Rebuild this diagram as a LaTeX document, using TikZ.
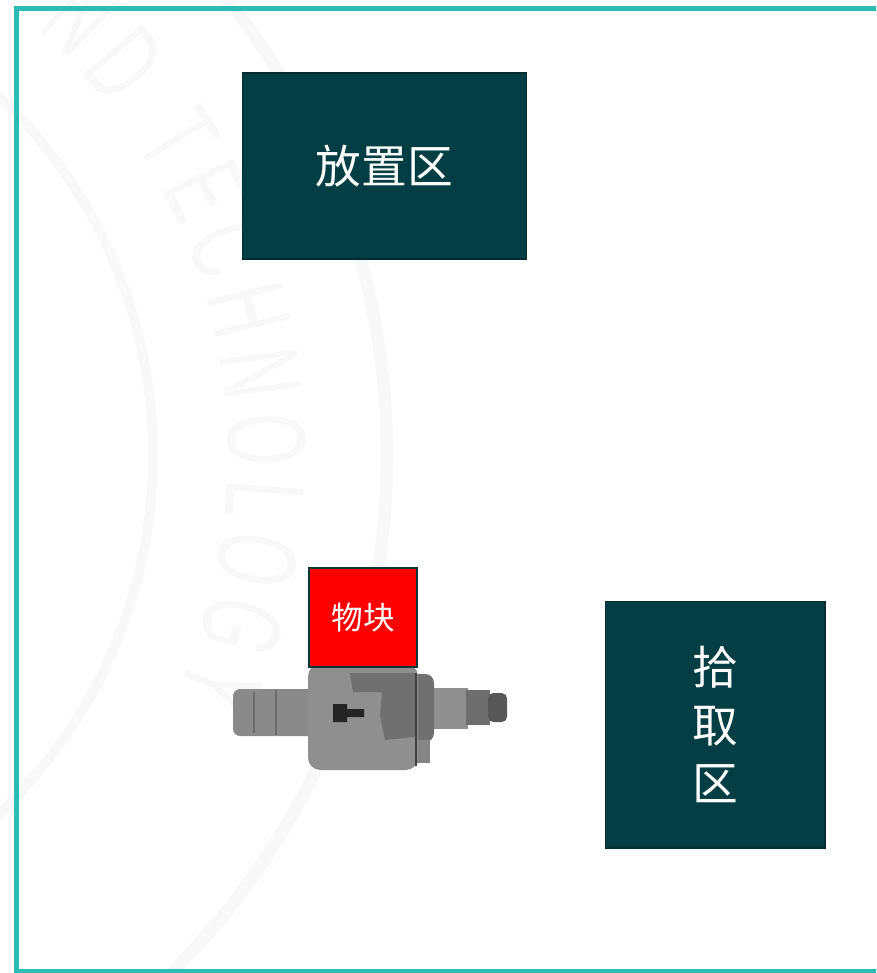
\documentclass[tikz,border=0pt]{standalone}
\usepackage{fontspec}
\newfontfamily\cjk{Noto Sans CJK SC}
\newfontfamily\sealfont[FakeStretch=0.6]{Liberation Sans}
\usetikzlibrary{decorations.text}
\definecolor{frameteal}{RGB}{45,187,181}
\definecolor{zonefill}{RGB}{3,62,68}
\definecolor{zoneedge}{RGB}{1,44,49}
\definecolor{blockedge}{RGB}{12,52,56}
\definecolor{sealgray}{RGB}{248,248,248}

\begin{document}
\begin{tikzpicture}[x=0.02cm, y=-0.02cm,
    zone/.style={draw=zoneedge, fill=zonefill, line width=.6pt, text=white,
      font=\cjk\fontsize{26}{33}\selectfont, align=center, inner sep=0pt},
    block/.style={draw=blockedge, fill=red, line width=1.2pt, text=white,
      font=\cjk\fontsize{18}{18}\selectfont, inner sep=0pt,
      minimum width=2.16cm, minimum height=1.98cm}]
  \useasboundingbox (0,0) rectangle (876,973);
  \clip (0,0) rectangle (876,973);
  % faint seal behind everything
  \draw[sealgray, line width=7.2pt] (-342,455) circle (729);
  \draw[sealgray, line width=5.6pt] (-342,455) circle (495);
  \path[decorate, decoration={text along path, text align={fit to path}, text color=sealgray,
      text={|\sealfont\fontsize{64}{64}\selectfont|ND TECHNOLOGY}}]
    (-342,455) ++(-48.5:570) arc (-48.5:24.7:570);
  \draw[frameteal, line width=2.8pt] (16.5,8.5) rectangle (930,971);

  % robot seen from above
  \fill[black!46, rounded corners=4pt] (233,689) rectangle (321,736);
  \draw[black!58, line width=.8pt] (254,692) -- (254,733) (276,690) -- (276,735) (310,690) -- (310,735);
  \fill[black!44] (418,688) rectangle (468,729);
  \fill[black!57] (466,690) rectangle (490,725);
  \fill[black!66, rounded corners=3pt] (488,693) rectangle (507,722);
  \fill[black!56, rounded corners=5pt] (410,674) rectangle (434,742);
  \fill[black!48] (413,740) rectangle (430,763);
  \fill[black!44, rounded corners=7pt] (308,664) rectangle (418,770);
  \fill[black!56] (350,673) -- (415,673) -- (415,737) -- (385,740) -- (380,715) -- (382,692) -- (353,692) -- cycle;
  \draw[black!75, line width=.6pt] (416,673) -- (416,766);
  \fill[black!86] (333,704) rectangle (347,722) (347,709) rectangle (364,717);

  \node[zone, minimum width=5.68cm, minimum height=3.72cm] (dropzone) at (384.5,166) {放置区};
  \node[zone, minimum width=4.4cm, minimum height=4.94cm] (pickzone) at (715,724.5) {拾\\取\\区};
  \node[block] (part) at (363,617.5) {物块};
\end{tikzpicture}
\end{document}
